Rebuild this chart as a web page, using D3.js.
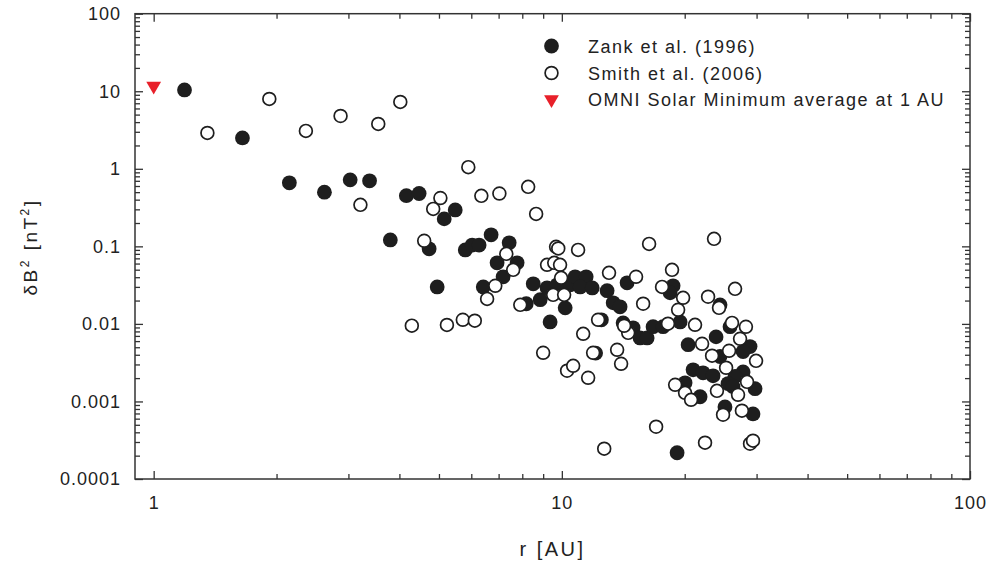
<!DOCTYPE html>
<html>
<head>
<meta charset="utf-8">
<script src="https://cdn.jsdelivr.net/npm/d3@7"></script>
<style>
  body { margin: 0; background: #fff; }
  text { font-family: "Liberation Sans", Arial, Helvetica, sans-serif; fill: #222; }
</style>
</head>
<body>
<svg id="chart" width="989" height="566"></svg>
<script>
// ---------- DATA ----------
const xTickValues = [1, 10, 100];
const xTickLabels = ["1", "10", "100"];
const yTickValues = [0.0001, 0.001, 0.01, 0.1, 1, 10, 100];
const yTickLabels = ["0.0001", "0.001", "0.01", "0.1", "1", "10", "100"];

const seriesNames = ["Zank et al. (1996)", "Smith et al. (2006)", "OMNI Solar Minimum average at 1 AU"];

// Zank et al. (1996) — filled circles
const zankR = [1.19, 1.65, 2.15, 2.62, 3.03, 3.38, 3.80, 4.16, 4.47, 4.73, 4.95, 5.15, 5.48,
  5.80, 6.03, 6.27, 6.71, 7.43, 6.94, 7.77, 7.18, 6.42, 8.18, 8.51, 8.85, 9.20, 10.19, 9.36,
  9.74, 10.48, 10.78, 11.47, 11.09, 11.87, 12.91, 13.36, 13.89, 14.45, 14.13, 14.95, 15.55,
  16.18, 16.73, 17.70, 18.73, 18.42, 19.49, 20.39, 20.97, 22.18, 23.47, 20.04, 21.81, 19.16,
  23.87, 24.41, 25.83, 28.91, 27.80, 24.41, 27.80, 26.57, 25.54, 26.27, 29.74, 25.1, 29.4,
  12.5, 12.1];
const zankV = [10.4, 2.5, 0.66, 0.50, 0.72, 0.70, 0.121, 0.45, 0.48, 0.093, 0.030, 0.226, 0.295,
  0.090, 0.104, 0.104, 0.141, 0.111, 0.0613, 0.0613, 0.0405, 0.030, 0.0182, 0.0329, 0.0205, 0.0292, 0.0161, 0.0106,
  0.0319, 0.0319, 0.0405, 0.0405, 0.030, 0.0291, 0.0268, 0.0187, 0.0166, 0.0339, 0.0103, 0.0089, 0.0066,
  0.0066, 0.0092, 0.0092, 0.031, 0.0252, 0.0106, 0.0054, 0.00256, 0.00234, 0.00214, 0.00174, 0.00115, 0.000218,
  0.0068, 0.0176, 0.0092, 0.0051, 0.0044, 0.0038, 0.0024, 0.0021, 0.0017, 0.00155, 0.00146, 0.00085, 0.00069,
  0.0113, 0.0042];

// Smith et al. (2006) — open circles
const smithR = [1.354, 1.92, 2.36, 2.87, 3.55, 4.02,
  3.21, 5.04, 4.84, 4.60, 5.90, 6.35, 7.03, 8.27, 8.65,
  4.29, 5.23, 5.72, 6.12,
  7.31, 7.60, 6.87, 6.56, 7.91,
  9.68, 9.80, 9.20, 9.58, 9.90, 10.96, 9.96, 9.52, 10.13,
  13.05, 15.2, 15.82, 16.36, 12.27, 11.28, 14.54, 14.21, 18.2, 18.62, 17.6, 19.82, 19.27, 21.2,
  9.0, 11.93, 13.66, 13.97, 10.30, 10.66, 11.60,
  18.95, 20.04, 20.73,
  23.6, 22.82, 24.27, 26.57, 26.12, 28.25, 27.33, 22.06, 23.34, 25.69, 25.26, 29.91, 28.43,
  23.99, 27.02, 24.83, 27.62, 17.02, 22.43, 28.91, 29.4, 12.7];
const smithV = [2.90, 7.96, 3.08, 4.8, 3.79, 7.28,
  0.343, 0.42, 0.304, 0.118, 1.05, 0.448, 0.48, 0.585, 0.262,
  0.0095, 0.0097, 0.0113, 0.011,
  0.080, 0.0498, 0.031, 0.021, 0.0176,
  0.0986, 0.094, 0.0578, 0.0613, 0.0578, 0.090, 0.0393, 0.0237, 0.0237,
  0.0455, 0.0405, 0.0182, 0.1076, 0.0113, 0.00745, 0.00767, 0.00946, 0.01006, 0.0498, 0.030, 0.0217, 0.0152, 0.00973,
  0.00424, 0.00424, 0.00464, 0.00306, 0.00249, 0.00288, 0.00202,
  0.00164, 0.00129, 0.00105,
  0.125, 0.0224, 0.0161, 0.0283, 0.0103, 0.00918, 0.00643, 0.00554, 0.00389, 0.0045, 0.00272, 0.00334, 0.00179,
  0.00137, 0.00122, 0.000674, 0.00076, 0.000472, 0.000294, 0.000285, 0.000312, 0.000246];

// OMNI solar minimum average at 1 AU — red triangle
const omniR = [1.0];
const omniV = [11.7];

// ---------- LAYOUT ----------
const svg = d3.select("#chart");
const plotLeft = 135, plotRight = 970, plotTop = 13.7, plotBottom = 479;
const axisColor = "#333";

const x = d3.scaleLog().domain([0.9, 100]).range([plotLeft, plotRight]);
const y = d3.scaleLog().domain([1e-4, 100]).range([plotBottom, plotTop]);

function minorTicks(lo, hi) {
  const out = [];
  for (let e = Math.floor(Math.log10(lo)); e <= Math.ceil(Math.log10(hi)); e++) {
    for (let k = 2; k <= 9; k++) {
      const v = k * Math.pow(10, e);
      if (v > lo * 1.0001 && v < hi * 0.9999) out.push(v);
    }
  }
  return out;
}
const xMinor = minorTicks(0.9, 100);
const yMinor = minorTicks(1e-4, 100);

function styleAxis(g) {
  g.select(".domain").remove();
  g.selectAll("line").attr("stroke", axisColor).attr("stroke-width", 1.3);
  g.selectAll("text").attr("fill", "#222").style("font-size", "18px").style("letter-spacing", "1px")
    .style("font-family", '"Liberation Sans", Arial, sans-serif');
}

// bottom axis
svg.append("g").attr("transform", `translate(0,${plotBottom})`)
  .call(d3.axisBottom(x).tickValues(xTickValues).tickFormat((d, i) => xTickLabels[i]).tickSizeInner(-8).tickSizeOuter(0).tickPadding(17))
  .call(styleAxis);
svg.append("g").attr("transform", `translate(0,${plotBottom})`)
  .call(d3.axisBottom(x).tickValues(xMinor).tickFormat("").tickSizeInner(-5).tickSizeOuter(0))
  .call(styleAxis);
// top axis
svg.append("g").attr("transform", `translate(0,${plotTop})`)
  .call(d3.axisTop(x).tickValues(xTickValues).tickFormat("").tickSizeInner(-8).tickSizeOuter(0))
  .call(styleAxis);
svg.append("g").attr("transform", `translate(0,${plotTop})`)
  .call(d3.axisTop(x).tickValues(xMinor).tickFormat("").tickSizeInner(-5).tickSizeOuter(0))
  .call(styleAxis);
// left axis
svg.append("g").attr("transform", `translate(${plotLeft},0)`)
  .call(d3.axisLeft(y).tickValues(yTickValues).tickFormat((d, i) => yTickLabels[i]).tickSizeInner(-8).tickSizeOuter(0).tickPadding(14))
  .call(styleAxis);
svg.append("g").attr("transform", `translate(${plotLeft},0)`)
  .call(d3.axisLeft(y).tickValues(yMinor).tickFormat("").tickSizeInner(-5).tickSizeOuter(0))
  .call(styleAxis);
// right axis
svg.append("g").attr("transform", `translate(${plotRight},0)`)
  .call(d3.axisRight(y).tickValues(yTickValues).tickFormat("").tickSizeInner(-8).tickSizeOuter(0))
  .call(styleAxis);
svg.append("g").attr("transform", `translate(${plotRight},0)`)
  .call(d3.axisRight(y).tickValues(yMinor).tickFormat("").tickSizeInner(-5).tickSizeOuter(0))
  .call(styleAxis);

// frame
svg.append("rect").attr("x", plotLeft).attr("y", plotTop).attr("width", plotRight - plotLeft).attr("height", plotBottom - plotTop)
  .attr("fill", "none").attr("stroke", axisColor).attr("stroke-width", 1.5);

// ---------- MARKS ----------
const zank = zankR.map((r, i) => ({ r, v: zankV[i] }));
const smith = smithR.map((r, i) => ({ r, v: smithV[i] }));
const omni = omniR.map((r, i) => ({ r, v: omniV[i] }));

svg.append("g").selectAll("circle").data(zank).join("circle")
  .attr("cx", d => x(d.r)).attr("cy", d => y(d.v)).attr("r", 7.4)
  .attr("fill", "#1e1e1e");

svg.append("g").selectAll("circle").data(smith).join("circle")
  .attr("cx", d => x(d.r)).attr("cy", d => y(d.v)).attr("r", 6.4)
  .attr("fill", "#fff").attr("stroke", "#1e1e1e").attr("stroke-width", 1.7);

const tri = d3.symbol().type(d3.symbolTriangle).size(95);
svg.append("g").selectAll("path").data(omni).join("path")
  .attr("transform", d => `translate(${x(d.r)},${y(d.v)}) rotate(180)`)
  .attr("d", tri).attr("fill", "#e8202a");

// ---------- LEGEND ----------
const legX = 551.5, legTextX = 588, legY = [46, 73, 99.5];
const leg = svg.append("g");
leg.append("circle").attr("cx", legX).attr("cy", legY[0]).attr("r", 7.4).attr("fill", "#1e1e1e");
leg.append("circle").attr("cx", legX).attr("cy", legY[1]).attr("r", 6.4).attr("fill", "#fff")
  .attr("stroke", "#1e1e1e").attr("stroke-width", 1.7);
leg.append("path").attr("transform", `translate(${legX},${legY[2]}) rotate(180)`).attr("d", tri).attr("fill", "#e8202a");
seriesNames.forEach((name, i) => {
  leg.append("text").attr("x", legTextX).attr("y", legY[i] + 6.5)
    .style("font-size", "18px").style("letter-spacing", "1.5px").text(name);
});

// ---------- AXIS TITLES ----------
svg.append("text").attr("x", (plotLeft + plotRight) / 2).attr("y", 556).attr("text-anchor", "middle")
  .style("font-size", "20px").style("letter-spacing", "2.5px").text("r [AU]");

const yt = svg.append("text").attr("transform", "translate(37,247) rotate(-90)").attr("text-anchor", "middle")
  .style("font-size", "19px").style("letter-spacing", "2.5px");
yt.append("tspan").text("δB");
yt.append("tspan").attr("dy", -8).style("font-size", "12px").text("2");
yt.append("tspan").attr("dy", 8).text(" [nT");
yt.append("tspan").attr("dy", -8).style("font-size", "12px").text("2");
yt.append("tspan").attr("dy", 8).text("]");
</script>
</body>
</html>
